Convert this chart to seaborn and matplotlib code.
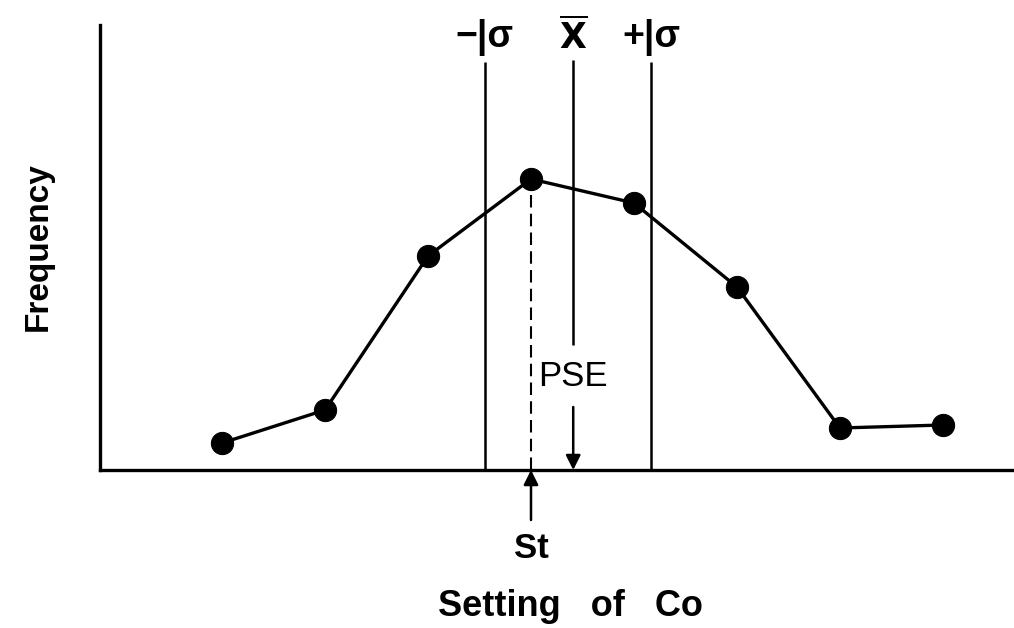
import pandas as pd
import matplotlib.pyplot as plt
import seaborn as sns

# settings of the comparison stimulus (arbitrary units) and response frequency
settings = [1, 2, 3, 4, 5, 6, 7, 8]
frequency = [2.7, 6.0, 21.4, 29.1, 26.7, 18.3, 4.2, 4.5]

# reference positions on the setting axis
minus_sigma = 3.55
mean_x = 4.41
plus_sigma = 5.17
standard = 4.0

sns.set_style('white')
plt.rcParams['font.family'] = ['Liberation Sans', 'DejaVu Sans']
plt.rcParams['text.color'] = 'black'

fig = plt.figure(figsize=(10.14, 6.28), dpi=100)
ax = fig.add_axes([100 / 1014, 158 / 628, 914 / 1014, 470 / 628])

df = pd.DataFrame({'Setting': settings, 'Frequency': frequency})
sns.lineplot(data=df, x='Setting', y='Frequency', ax=ax, color='black',
             linewidth=2.4, marker='o', markersize=16, markeredgecolor='black')

ax.set_xlim(-0.185, 8.69)
ax.set_ylim(0, 47)
ax.set_xticks([])
ax.set_yticks([])
ax.set_xlabel('')
ax.set_ylabel('')
for side in ['top', 'right']:
    ax.spines[side].set_visible(False)
for side in ['left', 'bottom']:
    ax.spines[side].set_linewidth(2.4)
    ax.spines[side].set_color('black')
ax.spines['left'].set_bounds(0, 44.5)

# sigma lines and mean line
ax.vlines([minus_sigma, plus_sigma], 0, 40.8, color='black', linewidth=1.8)
ax.vlines(mean_x, 12.5, 41, color='black', linewidth=1.8)
ax.annotate('', xy=(mean_x, 0), xytext=(mean_x, 6.3),
            arrowprops=dict(arrowstyle='-|>', color='black', lw=1.8,
                            mutation_scale=22, shrinkA=0, shrinkB=0))
ax.vlines(standard, 0, 28, color='black', linewidth=1.5,
          linestyles=(0, (6, 3)))
ax.annotate('', xy=(standard, 0), xytext=(standard, -5.0),
            arrowprops=dict(arrowstyle='-|>', color='black', lw=1.8,
                            mutation_scale=22, shrinkA=0, shrinkB=0),
            annotation_clip=False)

txt = dict(ha='center', va='center', color='black')
ax.text(minus_sigma, 43.3, '−|σ', fontsize=27, fontweight='bold', **txt)
ax.text(mean_x, 43.3, r'$\overline{\mathbf{X}}$', fontsize=25, **txt)
ax.text(plus_sigma, 43.3, '+|σ', fontsize=27, fontweight='bold', **txt)
ax.text(mean_x, 9.3, 'PSE', fontsize=25, **txt)
ax.text(standard, -7.8, 'St', fontsize=25, fontweight='bold', clip_on=False,
        **txt)

fig.text(570 / 1014, 1 - 607 / 628, 'Setting   of   Co', fontsize=26,
         fontweight='bold', **txt)
fig.text(38 / 1014, 1 - 247 / 628, 'Frequency', rotation=90, fontsize=24,
         fontweight='bold', **txt)

fig.savefig('out.png', dpi=100)
